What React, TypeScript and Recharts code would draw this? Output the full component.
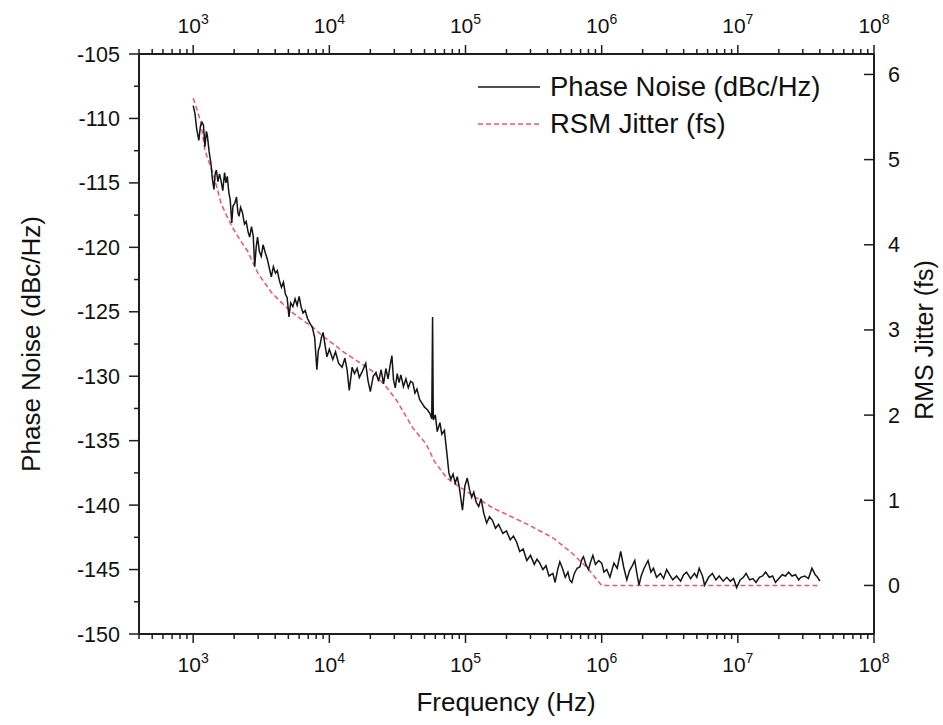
import { LineChart, Line, XAxis, YAxis } from "recharts";

const FONT = '"Liberation Sans", Arial, Helvetica, sans-serif';
const AXIS = "#1e1e1e";

// phase noise trace (Hz, dBc/Hz)
const PN_FREQ = [
  1000, 1030, 1060, 1100, 1130, 1160, 1190, 1220, 1250, 1270, 1310, 1350, 1380, 1420, 1450, 1480,
  1520, 1560, 1600, 1650, 1700, 1740, 1780, 1830, 1870, 1920, 1960, 2020, 2080, 2130, 2170, 2230,
  2300, 2380, 2450, 2530, 2600, 2680, 2760, 2830, 2900, 2970, 3060, 3160, 3260, 3380, 3500, 3620,
  3750, 3880, 4020, 4150, 4300, 4450, 4600, 4750, 4900, 5050, 5200, 5400, 5600, 5800, 6000, 6200,
  6400, 6650, 6900, 7200, 7500, 7800, 8100, 8300, 8500, 8750, 9000, 9300, 9600, 10000, 10600, 11100,
  11700, 12400, 13000, 13500, 14000, 14700, 15300, 16000, 16600, 17500, 18500, 19200, 20000, 21000,
  22000, 23000, 24000, 25000, 26000, 27000, 28000, 28800, 29600, 30500, 31500, 32500, 33500, 35000,
  36500, 38000, 39500, 41000, 42500, 44000, 46000, 48000, 50000, 52500, 54800, 56500, 57300, 58000,
  60000, 62000, 64900, 67000, 70000, 73000, 75500, 78000, 81000, 84000, 87000, 90000, 95000, 99000,
  103000, 107000, 111000, 115000, 120000, 125000, 130000, 136000, 143000, 150000, 158000, 166000,
  175000, 188000, 200000, 213000, 225000, 238000, 250000, 265000, 282000, 300000, 320000, 335000,
  351000, 370000, 390000, 410000, 438000, 455000, 475000, 493000, 515000, 540000, 565000, 583000,
  604000, 630000, 660000, 691000, 715000, 735000, 765000, 800000, 830000, 862000, 900000, 950000,
  1000000, 1040000, 1090000, 1150000, 1230000, 1300000, 1380000, 1450000, 1530000, 1600000, 1680000,
  1750000, 1820000, 1880000, 1950000, 2050000, 2190000, 2300000, 2400000, 2530000, 2700000, 2850000,
  3000000, 3150000, 3330000, 3550000, 3800000, 4000000, 4200000, 4500000, 4800000, 5000000, 5200000,
  5500000, 5700000, 6100000, 6500000, 6900000, 7300000, 7800000, 8300000, 8800000, 9300000, 9800000,
  10400000, 11000000, 11500000, 12200000, 12900000, 13600000, 14400000, 15200000, 16000000, 17000000,
  18000000, 18900000, 20000000, 21200000, 22400000, 23600000, 25000000, 26500000, 28000000, 29000000,
  31000000, 33000000, 35000000, 37000000, 38500000, 40000000,
];
const PN_DB = [
  -109.0, -109.6, -110.8, -111.7, -110.6, -110.3, -110.5, -112.2, -111.0, -111.3, -112.6, -113.5, -114.6, -115.5, -114.3, -114.0,
  -114.9, -114.3, -114.8, -115.6, -114.2, -115.0, -114.5, -115.8, -116.3, -118.1, -116.8, -116.6, -116.1, -117.3, -117.6, -116.9,
  -117.3, -118.2, -118.0, -118.8, -119.2, -118.4, -119.1, -121.5, -120.0, -119.2, -120.3, -120.7, -119.8, -120.4, -120.9, -121.6,
  -122.3, -121.5, -122.0, -121.8, -122.6, -123.1, -122.7, -123.6, -123.9, -125.4, -124.3, -124.6, -124.0, -124.5, -123.8, -124.6,
  -125.1, -124.9, -125.5, -125.9, -126.2, -127.0, -129.5, -128.0, -127.7, -127.0, -126.6, -127.6, -128.5, -127.9, -128.7, -128.1,
  -129.0, -129.3, -128.6, -129.5, -131.1, -129.3, -129.8, -129.4, -130.1, -129.6, -129.0, -130.3, -131.2, -130.0,
  -129.7, -130.4, -129.5, -130.6, -129.4, -130.2, -129.1, -128.4, -130.3, -130.9, -129.8, -130.5, -129.9, -130.8,
  -130.2, -130.9, -130.4, -130.5, -131.3, -131.0, -131.8, -132.1, -132.4, -132.6, -132.9, -133.3, -125.4, -133.4,
  -133.0, -134.3, -133.6, -134.5, -134.2, -136.0, -137.5, -138.0, -137.6, -138.3, -137.8, -138.6, -140.4, -138.5,
  -137.9, -138.8, -139.4, -139.0, -139.8, -140.1, -139.5, -140.6, -141.4, -140.9, -141.2, -141.8,
  -141.5, -142.2, -142.0, -142.7, -142.4, -142.9, -143.6, -143.4, -144.3, -143.9, -144.6, -144.2,
  -144.5, -145.0, -144.7, -145.5, -145.3, -146.0, -145.0, -144.4, -144.9, -145.6, -145.2, -145.8,
  -146.0, -145.3, -144.9, -144.8, -144.2, -144.0, -144.6, -145.0, -144.4, -143.9, -144.6, -144.3,
  -144.5, -145.2, -145.0, -145.6, -144.5, -144.9, -143.6, -144.8, -145.8, -145.1, -144.7,
  -144.3, -145.4, -146.2, -145.5, -144.9, -144.3, -145.2, -144.9, -145.6, -145.3, -145.7,
  -145.0, -145.4, -145.8, -145.5, -145.9, -145.4, -145.2, -145.7, -145.3, -145.6, -144.9,
  -145.5, -146.2, -145.6, -145.3, -145.8, -145.5, -145.9, -145.6, -145.9, -145.7, -146.4,
  -145.8, -145.6, -145.3, -145.8, -145.7, -146.0, -145.6, -145.5, -145.2, -145.6,
  -145.5, -146.0, -145.7, -145.4, -145.5, -145.2, -145.5, -145.4, -145.8, -145.6,
  -145.5, -145.7, -144.9, -145.4, -145.6, -145.9,
];

// integrated rms jitter, right axis (Hz, fs)
const JIT_FREQ = [
  1000, 1070, 1140, 1220, 1300, 1400, 1600, 1750, 1950, 2200, 2500, 3000, 3800, 4400, 5100, 6300,
  7600, 8900, 10600, 13000, 16600, 20600, 26500, 31300, 41000, 51500, 59000, 72900, 107000,
  159000, 283000, 438000, 616000, 790000, 1000000, 40000000,
];
const JIT_FS = [
  5.72, 5.58, 5.43, 5.11, 4.98, 4.84, 4.49, 4.35, 4.2, 4.06, 3.93, 3.66, 3.43, 3.33, 3.23, 3.12,
  3.03, 2.93, 2.84, 2.73, 2.62, 2.52, 2.32, 2.17, 1.85, 1.66, 1.46, 1.26, 1.08,
  0.91, 0.72, 0.56, 0.37, 0.2, 0, 0,
];

const X_MAJOR = [1e3, 1e4, 1e5, 1e6, 1e7, 1e8];
const X_DECADES = [1e2, 1e3, 1e4, 1e5, 1e6, 1e7];
const X_MINOR_STEPS = [2, 3, 4, 5, 6, 7, 8, 9];
const X_DOMAIN = [400, 1e8];

const DB_MAJOR = [-150, -145, -140, -135, -130, -125, -120, -115, -110, -105];
const DB_MINOR = [-147.5, -142.5, -137.5, -132.5, -127.5, -122.5, -117.5, -112.5, -107.5];
const FS_TICKS = [0, 1, 2, 3, 4, 5, 6];

const pnData = PN_FREQ.map((f, i) => ({ f, v: PN_DB[i] }));
const jitData = JIT_FREQ.map((f, i) => ({ f, v: JIT_FS[i] }));

const xTicks = [
  ...X_MAJOR,
  ...X_DECADES.flatMap((d) => X_MINOR_STEPS.map((s) => s * d)),
]
  .filter((v) => v >= X_DOMAIN[0] && v <= X_DOMAIN[1])
  .sort((a, b) => a - b);

function FreqTick(props: any) {
  const { x, y, payload, top } = props;
  const v = payload.value;
  const major = X_MAJOR.includes(v);
  const dir = top ? -1 : 1;
  return (
    <g>
      <line x1={x} x2={x} y1={y} y2={y + dir * (major ? 9 : 5)} stroke={AXIS} strokeWidth={1.5} />
      {major && (
        <text x={x} y={top ? y - 21 : y + 38} textAnchor="middle" fontSize={21} fill="#111" fontFamily={FONT}>
          10<tspan dy={-9} fontSize={14}>{Math.round(Math.log10(v))}</tspan>
        </text>
      )}
    </g>
  );
}

function DbTick(props: any) {
  const { x, y, payload } = props;
  const v = payload.value;
  const major = DB_MAJOR.includes(v);
  return (
    <g>
      <line x1={x - (major ? 10 : 5)} x2={x} y1={y} y2={y} stroke={AXIS} strokeWidth={1.5} />
      {major && (
        <text x={x - 19} y={y + 7.5} textAnchor="end" fontSize={21.5} fill="#111" fontFamily={FONT}>
          {v}
        </text>
      )}
    </g>
  );
}

function FsTick(props: any) {
  const { x, y, payload } = props;
  return (
    <g>
      <line x1={x - 10} x2={x} y1={y} y2={y} stroke={AXIS} strokeWidth={1.5} />
      <text x={x + 14} y={y + 7.5} textAnchor="start" fontSize={21.5} fill="#111" fontFamily={FONT}>
        {payload.value}
      </text>
    </g>
  );
}

export default function App() {
  return (
    <div style={{ position: "absolute", left: 0, top: 0, width: 943, height: 725, background: "#fff" }}>
      <LineChart width={943} height={725} margin={{ top: 24, right: 9, bottom: 61, left: 79 }}>
        <XAxis
          xAxisId="bottom"
          dataKey="f"
          type="number"
          scale="log"
          domain={X_DOMAIN}
          allowDataOverflow
          ticks={xTicks}
          interval={0}
          height={30}
          tickSize={0}
          tickMargin={0}
          tickLine={false}
          axisLine={{ stroke: AXIS, strokeWidth: 2 }}
          tick={(p: any) => <FreqTick {...p} />}
        />
        <XAxis
          xAxisId="top"
          orientation="top"
          dataKey="f"
          type="number"
          scale="log"
          domain={X_DOMAIN}
          allowDataOverflow
          ticks={xTicks}
          interval={0}
          height={30}
          tickSize={0}
          tickMargin={0}
          tickLine={false}
          axisLine={{ stroke: AXIS, strokeWidth: 2 }}
          tick={(p: any) => <FreqTick {...p} top />}
        />
        <YAxis
          yAxisId="left"
          type="number"
          domain={[-150, -105]}
          allowDataOverflow
          ticks={[...DB_MAJOR, ...DB_MINOR].sort((a, b) => a - b)}
          interval={0}
          width={60}
          tickSize={0}
          tickMargin={0}
          tickLine={false}
          axisLine={{ stroke: AXIS, strokeWidth: 2 }}
          tick={(p: any) => <DbTick {...p} />}
        />
        <YAxis
          yAxisId="right"
          orientation="right"
          type="number"
          domain={[-0.57, 6.24]}
          allowDataOverflow
          ticks={FS_TICKS}
          interval={0}
          width={60}
          tickSize={0}
          tickMargin={0}
          tickLine={false}
          axisLine={{ stroke: AXIS, strokeWidth: 2 }}
          tick={(p: any) => <FsTick {...p} />}
        />
        <Line
          data={jitData}
          dataKey="v"
          xAxisId="bottom"
          yAxisId="right"
          type="linear"
          stroke="#e4576f"
          strokeWidth={1.5}
          strokeDasharray="5 3"
          dot={false}
          isAnimationActive={false}
        />
        <Line
          data={pnData}
          dataKey="v"
          xAxisId="bottom"
          yAxisId="left"
          type="linear"
          stroke="#151515"
          strokeWidth={1.5}
          dot={false}
          isAnimationActive={false}
        />
      </LineChart>
      <svg
        width={943}
        height={725}
        style={{ position: "absolute", left: 0, top: 0, pointerEvents: "none" }}
        fontFamily={FONT}
      >
        <line x1={478} x2={540} y1={87} y2={87} stroke="#151515" strokeWidth={1.3} />
        <text x={550} y={96} fontSize={27.5} fill="#111">Phase Noise (dBc/Hz)</text>
        <line x1={478} x2={540} y1={124} y2={124} stroke="#e4576f" strokeWidth={1.5} strokeDasharray="5 3" />
        <text x={550} y={133} fontSize={27.5} fill="#111">RSM Jitter (fs)</text>
        <text x={506} y={711} fontSize={26} fill="#111" textAnchor="middle">Frequency (Hz)</text>
        <text x={40} y={344} fontSize={26} fill="#111" textAnchor="middle" transform="rotate(-90 40 344)">
          Phase Noise (dBc/Hz)
        </text>
        <text x={933} y={340} fontSize={25} fill="#111" textAnchor="middle" transform="rotate(-90 933 340)">
          RMS Jitter (fs)
        </text>
      </svg>
    </div>
  );
}
